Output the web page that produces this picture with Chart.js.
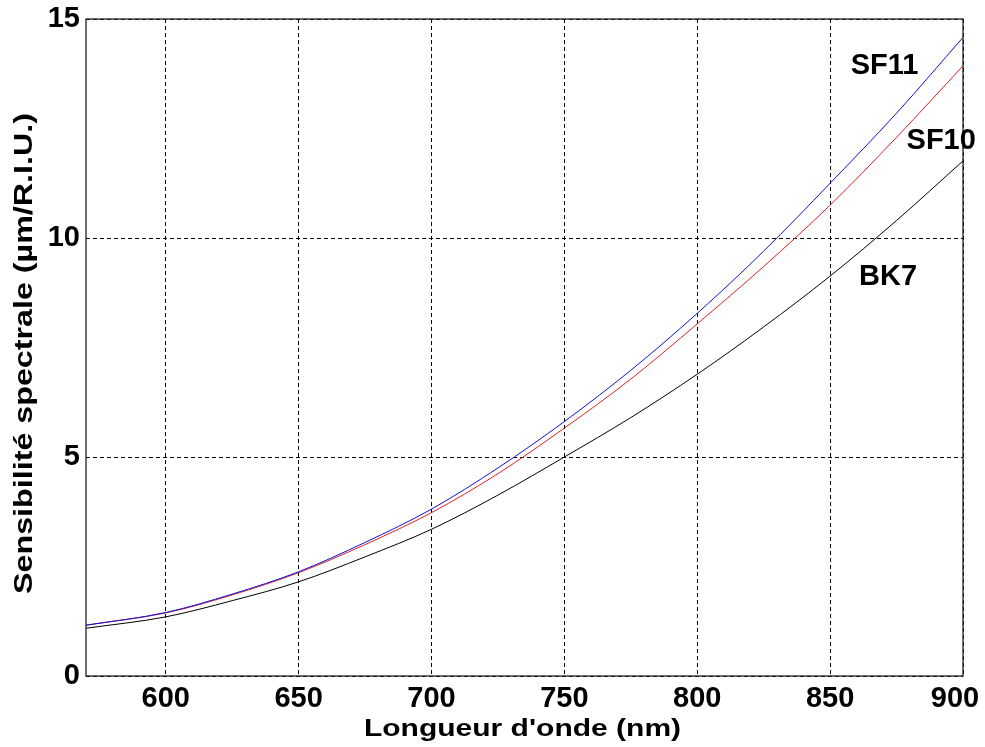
<!DOCTYPE html>
<html>
<head>
<meta charset="utf-8">
<script src="https://cdn.jsdelivr.net/npm/chart.js@4/dist/chart.umd.min.js"></script>
<style>
  html, body { margin: 0; padding: 0; background: #fff; }
  #wrap { width: 985px; height: 747px; position: relative; }
</style>
</head>
<body>
<div id="wrap"><canvas id="c"></canvas></div>
<script>
// Wavelength samples (nm) and spectral sensitivity (µm/RIU) for each glass
const wavelengths = [570, 600, 625, 650, 675, 700, 725, 750, 775, 800, 825, 850, 875, 900];
const sf11 = [1.16, 1.45, 1.87, 2.38, 3.05, 3.81, 4.75, 5.81, 6.98, 8.28, 9.70, 11.25, 12.85, 14.58];
const sf10 = [1.16, 1.44, 1.85, 2.36, 3.00, 3.73, 4.62, 5.66, 6.78, 8.04, 9.35, 10.75, 12.30, 13.93];
const bk7  = [1.09, 1.35, 1.72, 2.15, 2.72, 3.35, 4.13, 5.00, 5.90, 6.89, 7.97, 9.13, 10.40, 11.76];

const xTicks = [600, 650, 700, 750, 800, 850, 900];
const yTicks = [0, 5, 10, 15];

// Curve name tags, placed in data units
const tagNames = ['SF11', 'SF10', 'BK7'];
const tagX = [870.5, 891.8, 871.8];
const tagY = [13.93, 12.21, 9.10];

const xTitle = "Longueur d'onde (nm)";
const yTitle = 'Sensibilité spectrale (µm/R.I.U.)';

const FONT = '"Liberation Sans", Arial, Helvetica, sans-serif';

function toPoints(ys) {
  return wavelengths.map((x, i) => ({ x: x, y: ys[i] }));
}

// Box around the plot area, curve tags and axis titles
const decorations = {
  id: 'decorations',
  afterDraw(chart) {
    const { ctx, chartArea: a, scales } = chart;
    ctx.save();
    ctx.strokeStyle = '#222';
    ctx.lineWidth = 1.3;
    ctx.setLineDash([]);
    ctx.strokeRect(a.left, a.top, a.right - a.left, a.bottom - a.top);

    ctx.fillStyle = '#000';
    ctx.font = 'bold 29px ' + FONT;
    ctx.textAlign = 'center';
    ctx.textBaseline = 'middle';
    tagNames.forEach((t, i) => {
      ctx.fillText(t, scales.x.getPixelForValue(tagX[i]), scales.y.getPixelForValue(tagY[i]));
    });

    // x axis title
    ctx.font = 'bold 24px ' + FONT;
    ctx.textBaseline = 'alphabetic';
    ctx.save();
    ctx.translate((a.left + a.right) / 2 - 2, 736);
    ctx.scale(1.25, 1);
    ctx.fillText(xTitle, 0, 0);
    ctx.restore();

    // y axis title
    ctx.save();
    ctx.translate(32, (a.top + a.bottom) / 2 + 6);
    ctx.rotate(-Math.PI / 2);
    ctx.font = 'bold 25px ' + FONT;
    ctx.scale(1.29, 1);
    ctx.fillText(yTitle, 0, 0);
    ctx.restore();
    ctx.restore();
  }
};

const gridStyle = { color: '#000', lineWidth: 1, drawTicks: false };

new Chart(document.getElementById('c'), {
  type: 'line',
  data: {
    datasets: [
      { label: 'SF11', data: toPoints(sf11), borderColor: '#1010d8', borderWidth: 1 },
      { label: 'SF10', data: toPoints(sf10), borderColor: '#e02020', borderWidth: 1 },
      { label: 'BK7',  data: toPoints(bk7),  borderColor: '#000000', borderWidth: 1 }
    ]
  },
  options: {
    responsive: true,
    maintainAspectRatio: false,
    animation: false,
    layout: { padding: { top: 19, right: 22, left: 0, bottom: 0 } },
    elements: {
      point: { radius: 0 },
      line: { cubicInterpolationMode: 'monotone', fill: false }
    },
    plugins: { legend: { display: false }, tooltip: { enabled: false } },
    scales: {
      x: {
        type: 'linear',
        min: 570,
        max: 900,
        afterBuildTicks: s => { s.ticks = xTicks.map(v => ({ value: v })); },
        afterFit: s => { s.height = 71; s.paddingLeft = 0; s.paddingRight = 0; },
        grid: gridStyle,
        border: { display: false, dash: [4, 3] },
        ticks: {
          color: '#000',
          padding: 6,
          maxRotation: 0,
          font: { family: FONT, size: 29, weight: 'bold' },
          // keep the last label inside the canvas edge
          callback: v => (v === 900 ? String(v) + '\u00A0\u00A0' : String(v))
        }
      },
      y: {
        type: 'linear',
        min: 0,
        max: 15,
        afterBuildTicks: s => { s.ticks = yTicks.map(v => ({ value: v })); },
        afterFit: s => { s.width = 86; s.paddingTop = 0; s.paddingBottom = 0; },
        grid: gridStyle,
        border: { display: false, dash: [4, 3] },
        ticks: { color: '#000', padding: 6, font: { family: FONT, size: 29, weight: 'bold' } }
      }
    }
  },
  plugins: [decorations]
});
</script>
</body>
</html>
